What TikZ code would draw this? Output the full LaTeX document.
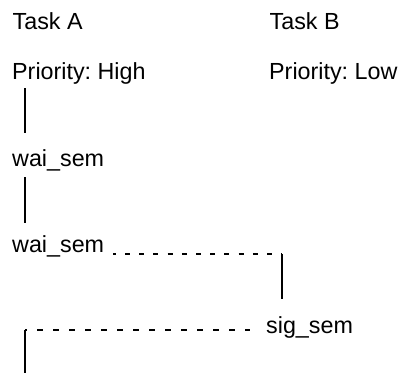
\documentclass[tikz,border=0pt]{standalone}
\usepackage{fontspec}
\setmainfont{Liberation Sans}
\frenchspacing
\begin{document}
\begin{tikzpicture}[x=1pt, y=-1pt,
  label/.style={anchor=base west, inner sep=0pt, font=\fontsize{23.3}{27}\selectfont},
  lifeline/.style={line width=2pt},
  msgline/.style={line width=2pt}]
  \useasboundingbox (0,0) rectangle (401,373);

  % task headers
  \node[label] (taskA) at (12.5,29) {Task A};
  \node[label] (taskB) at (269.5,29) {Task B};
  \node[label] (prioA) at (12,79) {Priority: High};
  \node[label] (prioB) at (269,79) {Priority: Low};

  % events
  \node[label] (waitA1) at (12,166) {wai\_sem};
  \node[label] (waitA2) at (12,252) {wai\_sem};
  \node[label] (sigB)   at (266,333) {sig\_sem};

  % lifeline segment ends
  \coordinate (l1s) at (25,88);   \coordinate (l1e) at (25,133);
  \coordinate (l2s) at (25,177);  \coordinate (l2e) at (25,223);
  \coordinate (l3s) at (282,254); \coordinate (l3e) at (282,299);
  \coordinate (l4s) at (25,330);  \coordinate (l4e) at (25,373);
  \coordinate (m1s) at (113,254);
  \coordinate (m2s) at (250,330);

  % execution segments
  \draw[lifeline] (l1s) -- (l1e);
  \draw[lifeline] (l2s) -- (l2e);
  \draw[lifeline] (l3s) -- (l3e);
  \draw[lifeline] (l4s) -- (l4e);

  % hand-over between the tasks
  \draw[msgline, dash pattern=on 5pt off 9.2pt, dash phase=2.2pt] (m1s) -- (l3s);
  \draw[msgline, dash pattern=on 6pt off 10pt, dash phase=4pt] (l4s) -- (m2s);
\end{tikzpicture}
\end{document}
